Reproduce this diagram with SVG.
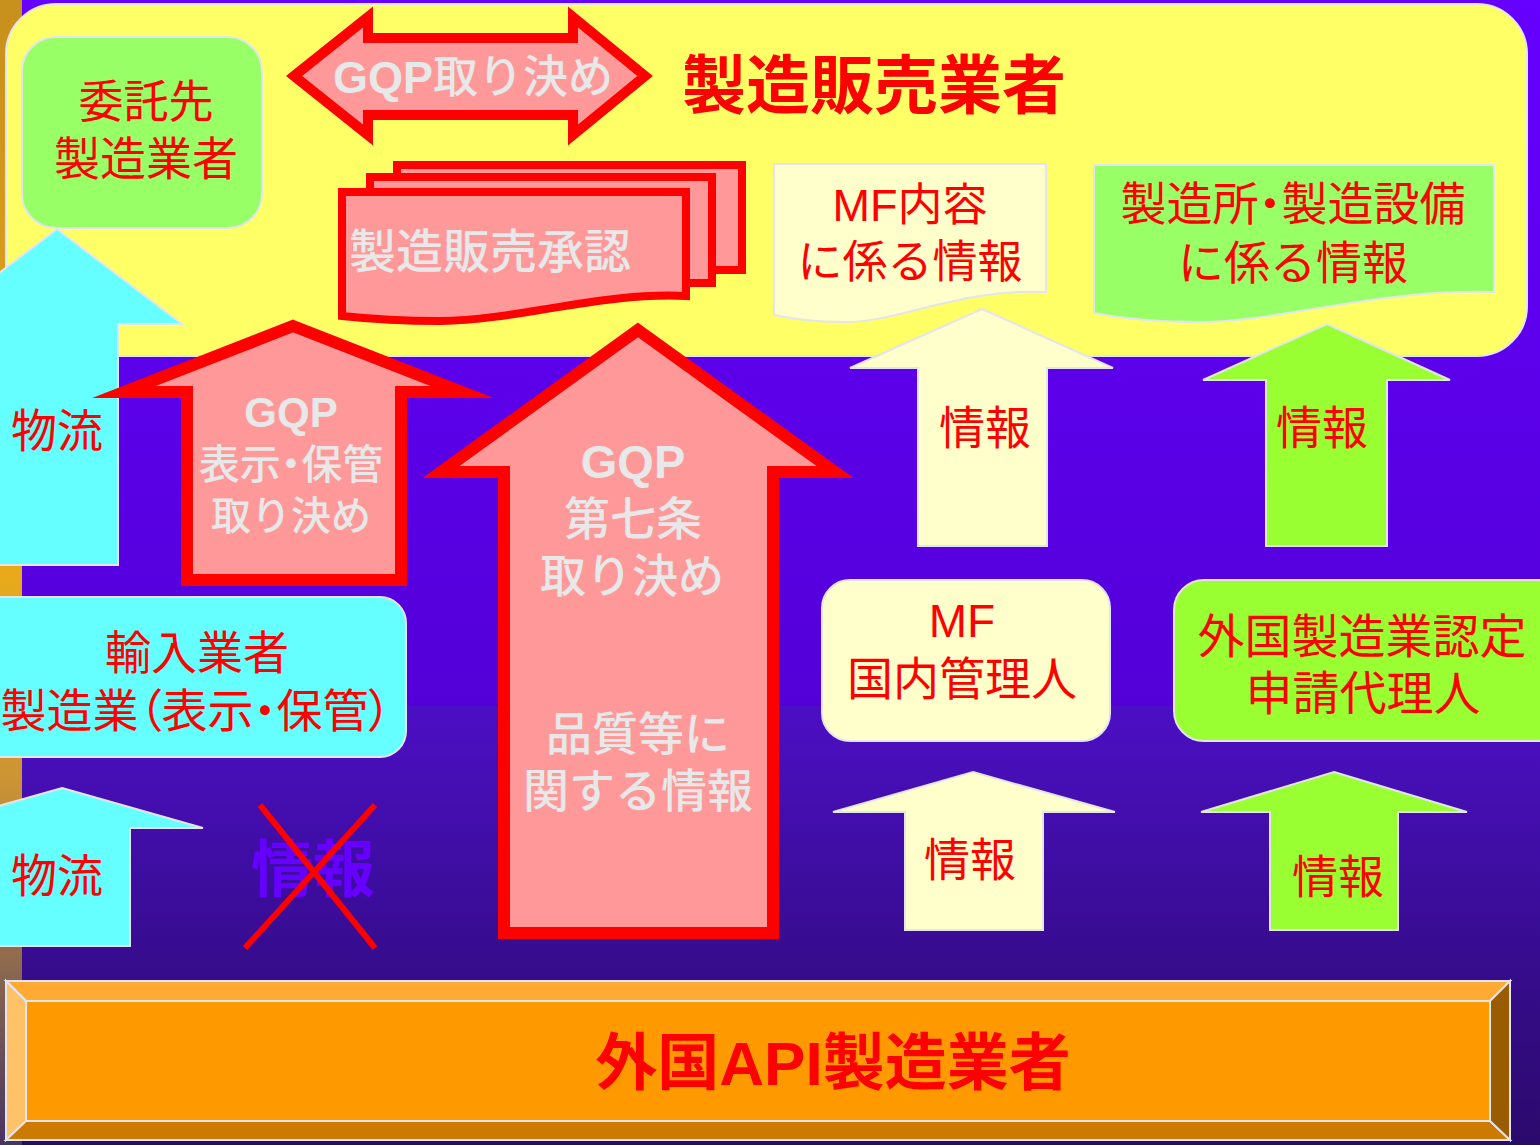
<svg xmlns="http://www.w3.org/2000/svg" width="1540" height="1145" viewBox="0 0 1540 1145">
<style>
.jp{font-family:"Liberation Sans","Noto Sans CJK JP","Noto Sans",sans-serif;text-anchor:middle}
.red{fill:#ff0000}
.grey{fill:#e8e8e8;font-weight:500}
.b{font-weight:bold}
.ol{stroke:#e4e4ee;stroke-width:2}
.rs{fill:#ff9999;stroke:#ff0000;stroke-linejoin:miter;stroke-miterlimit:10}
.p{font-feature-settings:"palt"}
.cyan{fill:#66ffff}
.cream{fill:#ffffcc}
.lime{fill:#99ff33}
.green{fill:#99ff66}
</style>
<defs>
<linearGradient id="bgTop" x1="0" y1="0" x2="0" y2="1">
<stop offset="0" stop-color="#6600ff"/>
<stop offset="1" stop-color="#5300d8"/>
</linearGradient>
<linearGradient id="bgBot" x1="0" y1="0" x2="0" y2="1">
<stop offset="0" stop-color="#4c0fc4"/>
<stop offset="0.6" stop-color="#360c8c"/>
<stop offset="1" stop-color="#2b0a6c"/>
</linearGradient>
<linearGradient id="strip" x1="0" y1="0" x2="0" y2="1">
<stop offset="0" stop-color="#c8901c"/>
<stop offset="0.5" stop-color="#e8aa1a"/>
<stop offset="0.68" stop-color="#cc9434"/>
<stop offset="0.84" stop-color="#8e6a4e"/>
<stop offset="1" stop-color="#463462"/>
</linearGradient>
</defs>

<g id="background">
<rect x="0" y="0" width="22" height="1145" fill="url(#strip)"/>
<rect x="22" y="0" width="1518" height="706" fill="url(#bgTop)"/>
<rect x="22" y="706" width="1518" height="439" fill="url(#bgBot)"/>
</g>

<g id="seizou-hanbai-gyousha">
<rect x="6" y="4" width="1521" height="352" rx="50" fill="#ffff66" class="ol"/>
<text x="874" y="108" class="jp red" font-size="64" font-weight="bold">製造販売業者</text>
</g>

<g id="itakusaki">
<rect x="22" y="37" width="240" height="191" rx="34" class="green ol"/>
<text x="146" y="118" class="jp red" font-size="45">委託先</text>
<text x="146" y="175" class="jp red" font-size="46">製造業者</text>
</g>

<g id="gqp-torikime">
<polygon class="rs" stroke-width="10" points="294,76 368,17 368,38 573,38 573,17 645,76 573,135 573,115 368,115 368,135"/>
<text x="473" y="93" class="jp grey" font-size="45"><tspan class="b">GQP</tspan>取り決め</text>
</g>

<g id="shounin">
<rect x="397" y="165" width="345" height="105" class="rs" stroke-width="8"/>
<rect x="370" y="177" width="342" height="106" class="rs" stroke-width="8"/>
<path class="rs" stroke-width="8" d="M342,192 H686 V296 C600,292 520,320 440,321 C400,321 370,319 342,316 Z"/>
<text x="490" y="268" class="jp grey" font-size="47">製造販売承認</text>
</g>

<g id="mf-naiyou">
<path class="cream ol" d="M774,164 H1046 V292 C960,288 900,322 845,322 C810,322 790,318 774,315 Z"/>
<text x="910" y="221" class="jp red" font-size="45">MF内容</text>
<text x="910" y="278" class="jp red" font-size="45">に係る情報</text>
</g>

<g id="seizousho-info">
<path class="green ol" d="M1094,165 H1494 V292 C1380,288 1280,322 1200,322 C1150,322 1120,318 1094,313 Z"/>
<text x="1293" y="220" class="jp red" font-size="46">製造所<tspan class="p">・</tspan>製造設備</text>
<text x="1293" y="279" class="jp red" font-size="46">に係る情報</text>
</g>

<g id="yunyuu-gyousha">
<rect x="-40" y="597" width="446" height="160" rx="26" class="cyan ol"/>
<text x="197" y="669" class="jp red" font-size="46">輸入業者</text>
<text x="196" y="727" class="jp red" font-size="46">製造業<tspan class="p">（</tspan>表示<tspan class="p">・</tspan>保管<tspan class="p">）</tspan></text>
</g>

<g id="mf-kanrinin">
<rect x="822" y="580" width="288" height="161" rx="28" class="cream ol"/>
<text x="962" y="637" class="jp red" font-size="46">MF</text>
<text x="962" y="695" class="jp red" font-size="46">国内管理人</text>
</g>

<g id="dairinin">
<rect x="1174" y="580" width="400" height="161" rx="30" class="lime ol"/>
<text x="1362" y="653" class="jp red" font-size="47">外国製造業認定</text>
<text x="1363" y="710" class="jp red" font-size="47">申請代理人</text>
</g>

<g id="gaikoku-api">
<rect x="26" y="1001" width="1464" height="120" fill="#ff9900"/>
<polygon points="6,981 1510,981 1490,1001 26,1001" fill="#ffaa33" class="ol"/>
<polygon points="6,981 26,1001 26,1121 6,1140" fill="#ffc266" class="ol"/>
<polygon points="6,1140 26,1121 1490,1121 1510,1140" fill="#cc7a00" class="ol"/>
<polygon points="1510,981 1510,1140 1490,1121 1490,1001" fill="#995c00" class="ol"/>
<rect x="26" y="1001" width="1464" height="120" fill="none" class="ol"/>
<text x="833" y="1085" class="jp red" font-size="62" font-weight="bold">外国API製造業者</text>
</g>

<g id="connectors">
<g id="butsuryu-upper">
<polygon class="cyan ol" points="57,229 182,324 118,324 118,565 -4,565 -4,324 -68,324"/>
<text x="57" y="447" class="jp red" font-size="46">物流</text>
</g>
<g id="butsuryu-lower">
<polygon class="cyan ol" points="62,788 203,828 130,828 130,946 -6,946 -6,828 -79,828"/>
<text x="57" y="892" class="jp red" font-size="46">物流</text>
</g>
<g id="gqp-hyouji">
<polygon class="rs" stroke-width="12" points="293,326 462,392 401,392 401,580 187,580 187,392 124,392"/>
<text x="291" y="427" class="jp grey b" font-size="42">GQP</text>
<text x="291" y="479" class="jp grey" font-size="41">表示<tspan class="p">・</tspan>保管</text>
<text x="291" y="530" class="jp grey" font-size="40">取り決め</text>
</g>
<g id="gqp-7jou">
<polygon class="rs" stroke-width="12" points="638,330 835,472 773,472 773,933 504,933 504,472 441,472"/>
<text x="633" y="478" class="jp grey b" font-size="47">GQP</text>
<text x="633" y="535" class="jp grey" font-size="46">第七条</text>
<text x="632" y="592" class="jp grey" font-size="46">取り決め</text>
<text x="638" y="750" class="jp grey" font-size="46">品質等に</text>
<text x="638" y="807" class="jp grey" font-size="46">関する情報</text>
</g>
<g id="info-mf-upper">
<polygon class="cream ol" points="982,309 1113,368 1047,368 1047,546 918,546 918,368 850,368"/>
<text x="985" y="444" class="jp red" font-size="46">情報</text>
</g>
<g id="info-green-upper">
<polygon class="lime ol" points="1327,324 1450,380 1387,380 1387,546 1266,546 1266,380 1203,380"/>
<text x="1322" y="444" class="jp red" font-size="46">情報</text>
</g>
<g id="info-mf-lower">
<polygon class="cream ol" points="973,772 1115,812 1043,812 1043,930 905,930 905,812 833,812"/>
<text x="970" y="876" class="jp red" font-size="46">情報</text>
</g>
<g id="info-green-lower">
<polygon class="lime ol" points="1334,772 1467,812 1398,812 1398,930 1270,930 1270,812 1201,812"/>
<text x="1338" y="893" class="jp red" font-size="46">情報</text>
</g>
<g id="info-crossed">
<text x="313" y="892" class="jp" font-size="62" font-weight="bold" fill="#6600ff">情報</text>
<line x1="260" y1="805" x2="375" y2="948" stroke="#ff0000" stroke-width="6"/>
<line x1="375" y1="805" x2="245" y2="948" stroke="#ff0000" stroke-width="6"/>
</g>
</g>
</svg>
